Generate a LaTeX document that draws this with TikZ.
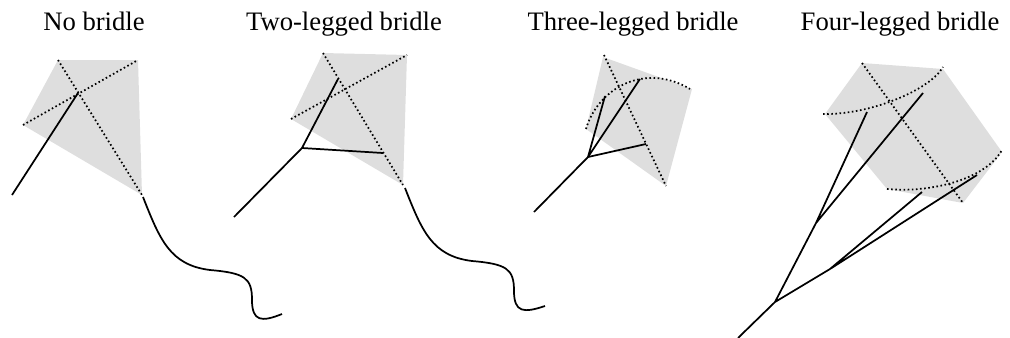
\documentclass[tikz,border=0pt]{standalone}
\usepackage{fontspec}
\setmainfont{Liberation Serif}
\usepackage{tikz}

\begin{document}
\begin{tikzpicture}[
        x = 0.75pt, y = -0.75pt,
        sail/.style = {fill=black!13, draw=none},
        spar/.style = {line width=1.3pt, dash pattern=on 1.2pt off 1.9pt},
        leg/.style = {line width=1.3pt, line join=round},
        title/.style = {anchor=base, inner sep=0pt, font=\fontsize{20}{24}\selectfont},
    ]
    \useasboundingbox (0,0) rectangle (1010,337);

    % titles
    \node [title] (tnone)  at (94,30)  {No bridle};
    \node [title] (ttwo)   at (344,30) {Two-legged bridle};
    \node [title] (tthree) at (633,30) {Three-legged bridle};
    \node [title] (tfour)  at (900,30) {Four-legged bridle};

    % kite without bridle
    \coordinate (a1) at (58,60);
    \coordinate (a2) at (138,60);
    \coordinate (a3) at (142,195);
    \coordinate (a4) at (23,125);
    \coordinate (ax) at (78,93);
    \coordinate (aend) at (12,195);
    \coordinate (atail) at (143,197);
    \coordinate (atip) at (282,314);
    \fill [sail] (a1) -- (a2) -- (a3) -- (a4) -- cycle;
    \draw [spar] (a1) -- (a3);
    \draw [spar] (a4) -- (a2);
    \draw [leg] (ax) -- (aend);
    \draw [leg] (atail) .. controls (160,240) and (170,265) .. (210,270)
        .. controls (245,273) and (252,278) .. (252,300)
        .. controls (252,322) and (262,322) .. (atip);

    % two-legged bridle
    \coordinate (b1) at (323,53);
    \coordinate (b2) at (407,55);
    \coordinate (b3) at (403,185);
    \coordinate (b4) at (291,119);
    \coordinate (bup) at (338,79);
    \coordinate (blow) at (383,153);
    \coordinate (bj) at (302,148);
    \coordinate (bend) at (234,217);
    \coordinate (btail) at (405,188);
    \coordinate (btip) at (545,306);
    \fill [sail] (b1) -- (b2) -- (b3) -- (b4) -- cycle;
    \draw [spar] (b1) -- (b3);
    \draw [spar] (b4) -- (b2);
    \draw [leg] (bup) -- (bj) -- (blow);
    \draw [leg] (bj) -- (bend);
    \draw [leg] (btail) .. controls (422,231) and (432,256) .. (472,261)
        .. controls (507,264) and (514,269) .. (514,291)
        .. controls (514,313) and (524,313) .. (btip);

    % three-legged bridle
    \coordinate (c1) at (603,57);
    \coordinate (c2) at (692,89);
    \coordinate (c3) at (666,186);
    \coordinate (c4) at (586,129);
    \coordinate (carc) at (690,89);
    \coordinate (cl1) at (605,96);
    \coordinate (cl2) at (640,79);
    \coordinate (cl3) at (646,144);
    \coordinate (cj) at (588,157);
    \coordinate (cend) at (534,212);
    \fill [sail] (c1) -- (c2) -- (c3) -- (c4) -- cycle;
    \draw [spar] (604,55) -- (c3);
    \draw [spar] (c4) .. controls (598,88) and (645,62) .. (carc);
    \draw [leg] (cl1) -- (cj) -- (cl2);
    \draw [leg] (cj) -- (cl3);
    \draw [leg] (cj) -- (cend);

    % four-legged bridle
    \coordinate (d1) at (862,63);
    \coordinate (d2) at (943,69);
    \coordinate (d3) at (1002,152);
    \coordinate (d4) at (963,203);
    \coordinate (d5) at (887,189);
    \coordinate (d6) at (825,114);
    \coordinate (dl1) at (867,112);
    \coordinate (dl2) at (923,93);
    \coordinate (dl3) at (922,192);
    \coordinate (dl4) at (977,175);
    \coordinate (dj1) at (816,223);
    \coordinate (dj2) at (830,269);
    \coordinate (dj) at (775,302);
    \coordinate (dend) at (738,338);
    \fill [sail] (d1) -- (d2) -- (d3) -- (d4) -- (d5) -- (d6) -- cycle;
    \draw [spar] (d1) -- (d4);
    \draw [spar] (823,114) .. controls (870,115) and (930,90) .. (943,67);
    \draw [spar] (d5) .. controls (930,193) and (985,180) .. (1002,150);
    \draw [leg] (dl1) -- (dj1) -- (dl2);
    \draw [leg] (dl3) -- (dj2) -- (dl4);
    \draw [leg] (dj1) -- (dj) -- (dj2);
    \draw [leg] (dj) -- (dend);
\end{tikzpicture}
\end{document}
